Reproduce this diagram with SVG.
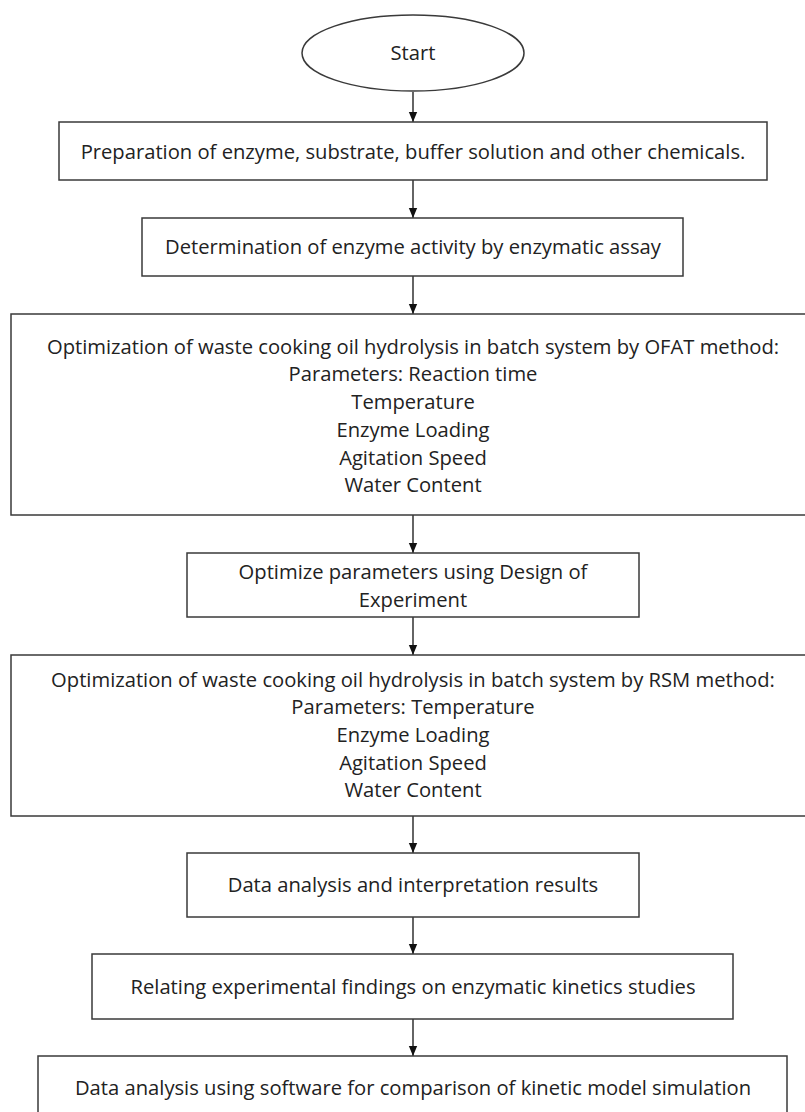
<svg xmlns="http://www.w3.org/2000/svg" width="805" height="1112" viewBox="0 0 805 1112">
<defs>
<marker id="ah" markerWidth="10" markerHeight="12" refX="12" refY="5" orient="auto" markerUnits="userSpaceOnUse" viewBox="0 0 12 10">
<path d="M0,0 L12,5 L0,10 Z" fill="#111"/>
</marker>
<style>
.box{fill:#fff;stroke:#3a3a3a;stroke-width:1.5}
.t{font-family:"Open Sans","Noto Sans",sans-serif;font-size:20.2px;fill:#222;text-anchor:middle}
.c{stroke:#111;stroke-width:1.3;fill:none;marker-end:url(#ah)}
</style>
</defs>
<rect width="805" height="1112" fill="#fff"/>
<g id="connectors">
<line class="c" x1="413" y1="92" x2="413" y2="122"/>
<line class="c" x1="413" y1="180" x2="413" y2="218"/>
<line class="c" x1="413" y1="276" x2="413" y2="314"/>
<line class="c" x1="413" y1="515" x2="413" y2="553"/>
<line class="c" x1="413" y1="617" x2="413" y2="655"/>
<line class="c" x1="413" y1="816" x2="413" y2="853"/>
<line class="c" x1="413" y1="917" x2="413" y2="954"/>
<line class="c" x1="413" y1="1019" x2="413" y2="1056"/>
</g>
<g id="start">
<ellipse class="box" cx="413" cy="53" rx="111" ry="38"/>
<text class="t" x="413" y="60">Start</text>
</g>
<g id="prep">
<rect class="box" x="59" y="122" width="708" height="58"/>
<text class="t" x="413" y="159">Preparation of enzyme, substrate, buffer solution and other chemicals.</text>
</g>
<g id="activity">
<rect class="box" x="142" y="218" width="541" height="58"/>
<text class="t" x="413" y="254">Determination of enzyme activity by enzymatic assay</text>
</g>
<g id="ofat">
<rect class="box" x="11" y="314" width="806" height="201"/>
<text class="t" x="413" y="354">Optimization of waste cooking oil hydrolysis in batch system by OFAT method:</text>
<text class="t" x="413" y="381">Parameters: Reaction time</text>
<text class="t" x="413" y="409">Temperature</text>
<text class="t" x="413" y="437">Enzyme Loading</text>
<text class="t" x="413" y="465">Agitation Speed</text>
<text class="t" x="413" y="492">Water Content</text>
</g>
<g id="doe">
<rect class="box" x="187" y="553" width="452" height="64"/>
<text class="t" x="413" y="579">Optimize parameters using Design of</text>
<text class="t" x="413" y="607">Experiment</text>
</g>
<g id="rsm">
<rect class="box" x="11" y="655" width="806" height="161"/>
<text class="t" x="413" y="687">Optimization of waste cooking oil hydrolysis in batch system by RSM method:</text>
<text class="t" x="413" y="714">Parameters: Temperature</text>
<text class="t" x="413" y="742">Enzyme Loading</text>
<text class="t" x="413" y="770">Agitation Speed</text>
<text class="t" x="413" y="797">Water Content</text>
</g>
<g id="analysis">
<rect class="box" x="187" y="853" width="452" height="64"/>
<text class="t" x="413" y="892">Data analysis and interpretation results</text>
</g>
<g id="kinetics">
<rect class="box" x="92" y="954" width="641" height="65"/>
<text class="t" x="413" y="994">Relating experimental findings on enzymatic kinetics studies</text>
</g>
<g id="software">
<rect class="box" x="38" y="1056" width="749" height="70"/>
<text class="t" x="413" y="1095">Data analysis using software for comparison of kinetic model simulation</text>
</g>
</svg>
